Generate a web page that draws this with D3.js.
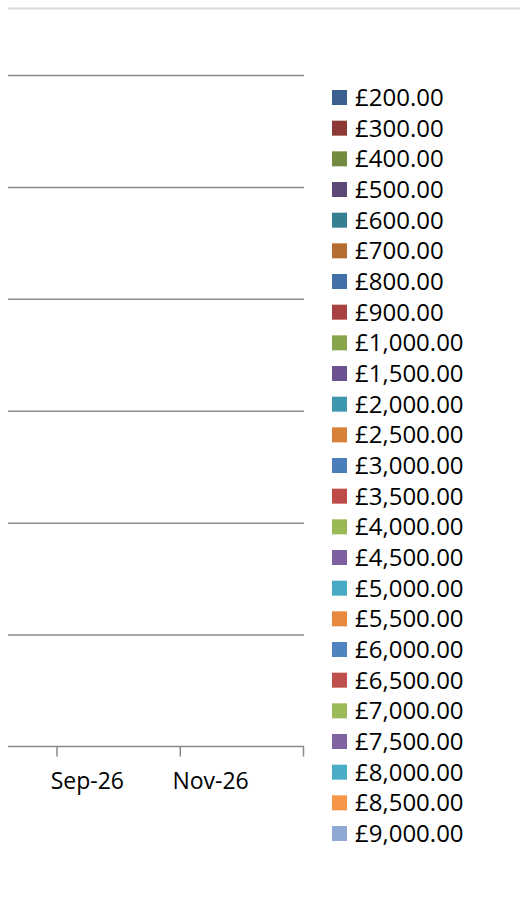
<!DOCTYPE html>
<html>
<head>
<meta charset="utf-8">
<script src="https://cdn.jsdelivr.net/npm/d3@7"></script>
<style>
  body { margin: 0; background: #fff; }
  text { font-family: "Open Sans", sans-serif; fill: #000; }
  .grid line { stroke: #8a8a8a; stroke-width: 1.5; }
  .grid path { display: none; }
  .x-axis path, .x-axis line { stroke: #8a8a8a; stroke-width: 1.5; }
  .x-labels path, .x-labels line { display: none; }
</style>
</head>
<body>
<div id="chart"></div>
<script>
// legend entries (series names) and their colours
const seriesNames = ['£200.00', '£300.00', '£400.00', '£500.00', '£600.00', '£700.00',
    '£800.00', '£900.00', '£1,000.00', '£1,500.00', '£2,000.00', '£2,500.00',
    '£3,000.00', '£3,500.00', '£4,000.00', '£4,500.00', '£5,000.00', '£5,500.00',
    '£6,000.00', '£6,500.00', '£7,000.00', '£7,500.00', '£8,000.00', '£8,500.00', '£9,000.00'];

const seriesColors = ['#3b5f8f', '#8d3a37', '#728b40', '#5d4878', '#367e92', '#b66d31',
    '#4470a9', '#a84240', '#87a64b', '#6c5190', '#3e97ae', '#d6803a',
    '#4a7ebb', '#be4b48', '#98b954', '#7d60a0', '#46aac5', '#e8893e',
    '#5084c1', '#c0504d', '#9bbb59', '#8064a2', '#4bacc6', '#f79646', '#8ea9d4'];

// the series carry no visible points in the reference
const seriesValues = seriesNames.map(() => []);

// x axis: date range, tick marks and labelled months
const xDomain = [new Date(2026, 7, 8), new Date(2027, 0, 1)];
const xTickDates = [new Date(2026, 8, 1), new Date(2026, 10, 1), new Date(2027, 0, 1)];
const xLabelDates = [new Date(2026, 8, 16), new Date(2026, 10, 16)];

// y axis gridline steps (no labels shown)
const yDomain = [0, 6];
const yTickValues = [1, 2, 3, 4, 5, 6];

const width = 521, height = 903;

const svg = d3.select('#chart')
    .append('svg')
    .attr('width', width)
    .attr('height', height);

// thin border line at the top of the chart area
svg.append('line')
    .attr('x1', 8).attr('x2', 520)
    .attr('y1', 8.5).attr('y2', 8.5)
    .attr('stroke', '#d9d9d9')
    .attr('stroke-width', 2);

const xScale = d3.scaleTime()
    .domain(xDomain)
    .range([8, 303]);

const yScale = d3.scaleLinear()
    .domain(yDomain)
    .range([746.5, 75]);

// horizontal gridlines
svg.append('g')
    .attr('class', 'grid')
    .attr('transform', 'translate(8,0)')
    .call(d3.axisRight(yScale)
        .tickValues(yTickValues)
        .tickSize(xScale.range()[1] - 8 + 1)
        .tickFormat(''));

// x axis line with tick marks
const xAxis = svg.append('g')
    .attr('class', 'x-axis')
    .attr('transform', `translate(0,${yScale(0)})`)
    .call(d3.axisBottom(xScale)
        .tickValues(xTickDates)
        .tickSizeInner(10)
        .tickSizeOuter(0)
        .tickFormat(''));
xAxis.select('.domain').attr('d', `M8,0H${xScale.range()[1] + 1}`);

// month labels
svg.append('g')
    .attr('class', 'x-labels')
    .attr('transform', `translate(0,${yScale(0)})`)
    .call(d3.axisBottom(xScale)
        .tickValues(xLabelDates)
        .tickSize(0)
        .tickPadding(26)
        .tickFormat(d3.timeFormat('%b-%y')))
    .selectAll('text')
    .style('font-size', '23px')
    .style('font-family', '"Open Sans", sans-serif');

// series lines (empty)
const line = d3.line()
    .x(d => xScale(d.date))
    .y(d => yScale(d.value));

svg.append('g')
    .selectAll('path')
    .data(seriesValues)
    .join('path')
    .attr('fill', 'none')
    .attr('stroke', (d, i) => seriesColors[i])
    .attr('stroke-width', 2)
    .attr('d', d => d.length ? line(d) : null);

// legend
const legendY = d3.scalePoint()
    .domain(seriesNames)
    .range([97.5, 833.5]);

const legend = svg.append('g')
    .selectAll('g')
    .data(seriesNames)
    .join('g')
    .attr('transform', d => `translate(332,${legendY(d)})`);

legend.append('rect')
    .attr('x', 0)
    .attr('y', -7.5)
    .attr('width', 15)
    .attr('height', 15)
    .attr('fill', (d, i) => seriesColors[i]);

legend.append('text')
    .attr('x', 23)
    .attr('dy', '0.36em')
    .style('font-size', '24px')
    .text(d => d);
</script>
</body>
</html>
